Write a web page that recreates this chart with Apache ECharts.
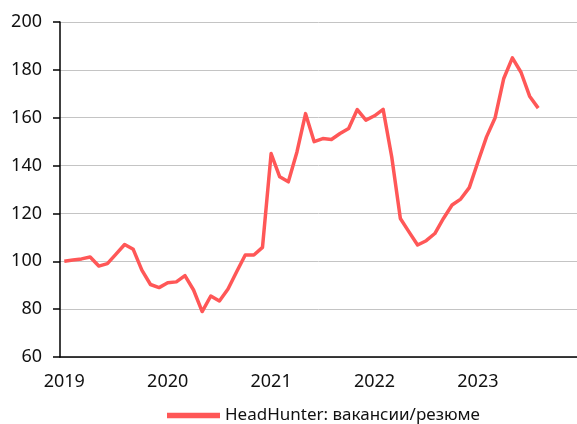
<!DOCTYPE html>
<html>
<head>
<meta charset="utf-8">
<script src="https://cdn.jsdelivr.net/npm/echarts@6/dist/echarts.min.js"></script>
<style>
  html, body { margin: 0; padding: 0; background: #fff; }
  #chart { width: 577px; height: 424px; }
</style>
</head>
<body>
<div id="chart"></div>
<script>
// Monthly index, January 2019 = 100
const years = [2019, 2020, 2021, 2022, 2023];
const months = [];
years.forEach(y => { for (let m = 1; m <= 12; m++) months.push(y + '-' + String(m).padStart(2, '0')); });

const seriesName = 'HeadHunter: вакансии/резюме';
const ratio = [
  100, 100.5, 101, 101.8, 98, 99, 103, 107, 105, 96.3, 90.3, 89,
  91, 91.4, 94, 88, 79, 85.5, 83.4, 88.4, 95.6, 102.6, 102.6, 105.8,
  145, 135.3, 133.2, 145.7, 161.7, 150, 151.3, 150.9, 153.4, 155.5, 163.4, 159,
  160.8, 163.5, 143.6, 117.9, 112.3, 106.8, 108.6, 111.6, 117.9, 123.5, 126, 130.8,
  141.5, 152, 160, 176.4, 185, 179, 169, 164
];

const yMin = 60, yMax = 200, yStep = 20;

const chart = echarts.init(document.getElementById('chart'), null, { renderer: 'canvas' });
const font = '"Noto Sans", sans-serif';

chart.setOption({
  animation: false,
  textStyle: { fontFamily: font },
  grid: { left: 60, right: 0, top: 22, bottom: 67 },
  legend: {
    data: [seriesName],
    left: 162,
    top: 402,
    itemWidth: 53,
    itemHeight: 10,
    itemGap: 5,
    icon: 'path://M0,0 L10,0 L10,1 L0,1 Z',
    textStyle: { fontFamily: font, fontSize: 17, color: '#111' }
  },
  xAxis: {
    type: 'category',
    data: months,
    boundaryGap: true,
    axisLine: { lineStyle: { color: '#000', width: 1.5 } },
    axisTick: { interval: 11, length: 7, lineStyle: { color: '#000', width: 1.5 } },
    axisLabel: {
      interval: 11,
      margin: 16,
      fontSize: 18,
      color: '#111',
      formatter: v => v.slice(0, 4)
    },
    splitLine: { show: false }
  },
  yAxis: {
    type: 'value',
    min: yMin,
    max: yMax,
    interval: yStep,
    axisLine: { show: true, lineStyle: { color: '#000', width: 1.5 } },
    axisTick: { show: true, length: 7, lineStyle: { color: '#000', width: 1.5 } },
    axisLabel: { margin: 18, fontSize: 18, color: '#111' },
    splitLine: { lineStyle: { color: '#c4c4c4', width: 1 } }
  },
  series: [{
    name: seriesName,
    type: 'line',
    data: ratio,
    showSymbol: false,
    symbol: 'none',
    lineStyle: { color: '#ff5757', width: 3.5, join: 'round' },
    itemStyle: { color: '#ff5757' }
  }]
});
</script>
</body>
</html>
